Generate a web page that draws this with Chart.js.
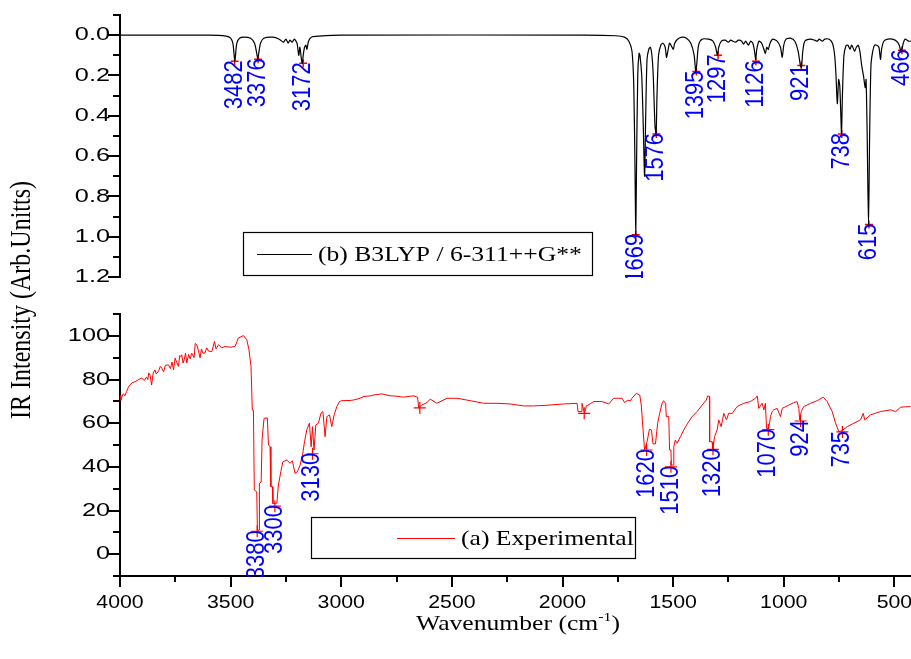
<!DOCTYPE html>
<html><head><meta charset="utf-8">
<script src="https://cdn.jsdelivr.net/npm/chart.js@4.4.1/dist/chart.umd.min.js"></script>
<style>
html,body{margin:0;padding:0;background:#fff;}
#wrap{position:relative;width:911px;height:659px;background:#fff;}
canvas{position:absolute;left:0;top:0;}
</style></head><body>
<div id="wrap"><canvas id="cTop" width="911" height="659"></canvas><canvas id="cBot" width="911" height="659"></canvas></div>
<script>
// ---------- DATA ----------
const xTickValues = [4000, 3500, 3000, 2500, 2000, 1500, 1000, 500];
const xTickLabels = ["4000", "3500", "3000", "2500", "2000", "1500", "1000", "500"];
const xMinorTicks = [3750, 3250, 2750, 2250, 1750, 1250, 750];

const topYTickValues = [0, 0.2, 0.4, 0.6, 0.8, 1.0, 1.2];
const topYTickLabels = ["0.0", "0.2", "0.4", "0.6", "0.8", "1.0", "1.2"];
const topYMinorTicks = [-0.1, 0.1, 0.3, 0.5, 0.7, 0.9, 1.1];

const botYTickValues = [0, 20, 40, 60, 80, 100];
const botYTickLabels = ["0", "20", "40", "60", "80", "100"];
const botYMinorTicks = [-10, 10, 30, 50, 70, 90, 110];

// (b) B3LYP / 6-311++G** calculated spectrum
const calcWavenumber = [4000,3600,3520,3500,3490,3484,3481,3478,3472,3460,3440,3410,3392,3382,3377,3373,3365,3350,3310,3280,3262,3250,3240,3232,3222,3212,3200,3192,3187,3180,3176,3172,3166,3160,3155,3148,3135,3100,3000,1900,1760,1720,1700,1686,1678,1672,1669,1666,1660,1654,1650,1642,1635,1629,1624,1618,1610,1603,1596,1590,1582,1577,1573,1566,1556,1546,1536,1530,1524,1516,1505,1499,1493,1480,1460,1440,1420,1405,1398,1393,1385,1370,1340,1320,1308,1300,1294,1282,1265,1250,1240,1230,1218,1205,1190,1182,1172,1160,1150,1140,1132,1127,1122,1112,1100,1090,1083,1077,1070,1062,1050,1030,1015,1007,1000,990,970,950,935,925,920,914,905,880,860,848,840,825,815,795,780,770,764,758,752,747,742,739,735,728,718,710,700,694,688,680,672,664,656,648,640,632,628,623,617,612,606,598,590,580,570,563,558,548,530,510,490,478,471,466,460,452,435,425];
const calcIntensity  = [0,0,0.005,0.015,0.04,0.10,0.13,0.10,0.04,0.015,0.01,0.015,0.04,0.09,0.12,0.09,0.04,0.015,0.01,0.02,0.035,0.02,0.04,0.025,0.035,0.02,0.04,0.10,0.06,0.12,0.14,0.10,0.06,0.05,0.07,0.03,0.01,0.005,0,0,0.003,0.01,0.03,0.08,0.25,0.7,1.0,0.7,0.2,0.09,0.10,0.2,0.45,0.70,0.4,0.12,0.07,0.06,0.1,0.2,0.45,0.49,0.3,0.1,0.05,0.04,0.06,0.11,0.08,0.04,0.06,0.07,0.04,0.02,0.01,0.015,0.04,0.10,0.18,0.14,0.05,0.02,0.02,0.03,0.06,0.10,0.06,0.03,0.025,0.035,0.025,0.03,0.035,0.025,0.03,0.045,0.03,0.05,0.03,0.04,0.08,0.12,0.07,0.03,0.04,0.07,0.09,0.06,0.07,0.04,0.02,0.03,0.06,0.11,0.05,0.02,0.015,0.03,0.08,0.15,0.16,0.08,0.03,0.02,0.025,0.03,0.02,0.03,0.02,0.02,0.04,0.1,0.2,0.34,0.22,0.25,0.4,0.49,0.3,0.1,0.05,0.05,0.07,0.05,0.06,0.08,0.06,0.05,0.08,0.15,0.2,0.26,0.22,0.5,0.945,0.5,0.15,0.08,0.05,0.05,0.06,0.12,0.07,0.03,0.02,0.02,0.03,0.05,0.08,0.07,0.04,0.02,0.03,0.03];
const calcPeakWn    = [3482, 3376, 3172, 1669, 1576, 1395, 1297, 1126, 921, 738, 615, 466];
const calcPeakValue = [0.13, 0.12, 0.14, 0.99, 0.49, 0.18, 0.10, 0.13, 0.15, 0.49, 0.94, 0.075];
const calcPeakLabel = ["3482", "3376", "3172", "1669", "1576", "1395", "1297", "1126", "921", "738", "615", "466"];

// (a) Experimental spectrum
const expWavenumber = [4000,3996,3992,3985,3978,3970,3962,3955,3945,3932,3915,3902,3890,3880,3874,3870,3864,3857,3850,3842,3836,3825,3818,3811,3803,3795,3781,3772,3765,3758,3751,3744,3736,3730,3725,3721,3715,3710,3704,3698,3690,3683,3676,3665,3660,3653,3645,3638,3632,3625,3616,3608,3600,3585,3573,3566,3555,3540,3525,3500,3480,3465,3442,3427,3417,3408,3402,3397,3393,3382,3379,3371,3370,3362,3358,3349,3334,3329,3322,3318,3311,3309,3291,3284,3273,3264,3246,3231,3221,3209,3198,3186,3174,3166,3156,3144,3136,3130,3123,3115,3103,3092,3083,3073,3065,3053,3043,3032,3020,3008,2997,2960,2945,2915,2900,2869,2854,2816,2779,2764,2719,2690,2673,2655,2650,2636,2613,2598,2568,2522,2477,2417,2357,2296,2236,2176,2131,2070,1995,1934,1930,1916,1912,1905,1900,1892,1889,1859,1821,1791,1769,1731,1720,1705,1693,1686,1666,1651,1644,1636,1629,1618,1607,1598,1591,1580,1570,1561,1550,1543,1534,1531,1520,1516,1510,1508,1500,1497,1490,1482,1467,1452,1434,1414,1392,1369,1350,1344,1336,1335,1324,1320,1313,1301,1294,1283,1271,1259,1249,1233,1211,1181,1151,1128,1120,1113,1098,1090,1083,1078,1068,1060,1053,1045,1030,1015,1007,985,955,940,932,928,921,910,879,849,822,804,781,766,751,736,713,683,653,641,634,608,563,517,495,472,450,427];
const expIntensity  = [72.9,70.5,72,73.5,72.5,74.5,76.5,77.5,78.5,79,80,80.7,79.5,81.2,80,83,82,77.5,83,84.4,82.5,84,86,85.2,83.5,86.5,86.7,85,88,84.5,89.8,88,86,91,90.5,91.3,87.5,89,92,87.6,91.5,89.5,92,90,96.5,95.9,93,89.9,94,92,92.2,94.5,93,92.8,97.4,94,95.9,94.5,95.1,94.8,95.1,99,100.1,98.2,93.6,86,66,66,29.4,28.6,11,11,32.5,33,52.3,62.2,62.4,50,49.2,30.9,30.9,23.2,23.4,31.7,37.8,42.3,43.1,41.6,42.8,37,37.8,40.8,46.2,51.5,56.9,60,49.2,58.4,47.7,59.2,60,64.5,65.3,53.8,63,63.8,58.4,63.8,67.6,69.9,70.3,70.4,70.6,71.4,72.2,72.5,72.9,73.4,72.5,72.5,71.9,72.3,72.5,71.9,67,68.3,69.4,71,69.1,71.4,71.4,70.3,69.1,69.1,68.8,67.9,67.9,68.2,68.8,69.1,65.3,65.3,69.1,66,64.8,68,67.9,69.9,69.9,68.8,71.4,71.4,69.5,70.5,70.2,71.4,73.7,72.9,68.3,56.9,47.7,51.5,57.2,56.9,50.5,50.5,60,64.5,69.1,70.3,69.1,63,63,47.7,47.7,40.8,40.8,49.2,52.3,50.8,53.8,56.9,60,63,65.3,68.3,70.6,72.5,72.2,51.5,51.5,47.7,53.8,56.9,61.5,58.4,64.5,61.5,64.5,64.5,67.6,69.1,69.9,71.4,72.5,66.8,69.1,66.1,69.1,57.6,57.6,63,65.3,66.1,66.8,63,66.8,67.9,69.4,69.9,66.8,61.5,65.3,67.6,69.1,70.3,71.9,69.9,65.3,60,56.1,56.6,58.4,60,61.5,64.5,61.5,63.8,65.3,66.1,65.3,67.3,67.5,67.6];
const expPeakWn    = [3380, 3300, 3130, 2645, 1902, 1620, 1510, 1320, 1070, 924, 735];
const expPeakValue = [10.5, 22, 46, 67, 64.5, 47.7, 40, 48, 57, 61, 56];
const expPeakLabel = ["3380", "3300", "3130", "", "", "1620", "1510", "1320", "1070", "924", "735"];

// ---------- HELPERS ----------
function pts(xs, ys) { return xs.map((x, i) => ({x: x, y: ys[i]})); }

function stretchText(ctx, text, x, y, font, align, baseline, sx, color) {
  ctx.save();
  ctx.translate(x, y);
  ctx.scale(sx, 1);
  ctx.font = font;
  ctx.textAlign = align;
  ctx.textBaseline = baseline;
  ctx.fillStyle = color || '#000';
  ctx.fillText(text, 0, 0);
  ctx.restore();
}
function rotText(ctx, text, x, y, font, align, sx, color) {
  ctx.save();
  ctx.translate(x, y);
  ctx.scale(sx, 1);
  ctx.rotate(-Math.PI / 2);
  ctx.font = font;
  ctx.textAlign = align;
  ctx.textBaseline = 'middle';
  ctx.fillStyle = color;
  ctx.fillText(text, 0, 0);
  ctx.restore();
}

const TICK_FONT = '19px "Liberation Sans", Arial, sans-serif';
const SERIF = '"Liberation Serif", "Times New Roman", serif';
const PEAK_FONT = '22px "Liberation Sans", Arial, sans-serif';

function yAxisDecor(chart, majors, labels, minors) {
  const ctx = chart.ctx, ys = chart.scales.y, left = chart.chartArea.left;
  ctx.save();
  ctx.strokeStyle = '#000'; ctx.lineWidth = 2;
  majors.forEach(v => { const p = Math.round(ys.getPixelForValue(v)); ctx.beginPath(); ctx.moveTo(left - 12, p); ctx.lineTo(left, p); ctx.stroke(); });
  minors.forEach(v => { const p = Math.round(ys.getPixelForValue(v)); ctx.beginPath(); ctx.moveTo(left - 7, p); ctx.lineTo(left, p); ctx.stroke(); });
  ctx.restore();
  majors.forEach((v, i) => stretchText(ctx, labels[i], left - 10, ys.getPixelForValue(v), TICK_FONT, 'right', 'middle', 1.33, '#000'));
}

function peakLabels(chart, wns, vals, labels) {
  const ctx = chart.ctx, xs = chart.scales.x, ys = chart.scales.y, a = chart.chartArea;
  ctx.save();
  ctx.beginPath(); ctx.rect(a.left, a.top, a.right - a.left, a.bottom - a.top + 1); ctx.clip();
  wns.forEach((w, i) => {
    if (!labels[i]) return;
    rotText(ctx, labels[i], xs.getPixelForValue(w), ys.getPixelForValue(vals[i]) - 1, PEAK_FONT, 'right', 1.15, '#0000ff');
  });
  ctx.restore();
}

function legendBox(ctx, x0, y0, x1, y1, lx0, lx1, color, text) {
  ctx.save();
  ctx.fillStyle = '#fff'; ctx.fillRect(x0, y0, x1 - x0, y1 - y0);
  ctx.strokeStyle = '#000'; ctx.lineWidth = 1.2; ctx.strokeRect(x0 + 0.5, y0 + 0.5, x1 - x0, y1 - y0);
  const ym = Math.round((y0 + y1) / 2) + 0.5;
  ctx.strokeStyle = color; ctx.lineWidth = 1.2;
  ctx.beginPath(); ctx.moveTo(lx0, ym); ctx.lineTo(lx1, ym); ctx.stroke();
  ctx.restore();
  stretchText(ctx, text, lx1 + 6, ym + 1, '21px ' + SERIF, 'left', 'middle', 1.22, '#000');
}

const topDecor = {
  id: 'topDecor',
  afterDatasetsDraw(chart) {
    yAxisDecor(chart, topYTickValues, topYTickLabels, topYMinorTicks);
    peakLabels(chart, calcPeakWn, calcPeakValue, calcPeakLabel);
    legendBox(chart.ctx, 243, 232, 592, 275, 257, 312, '#000', '(b) B3LYP / 6-311++G**');
  }
};

const botDecor = {
  id: 'botDecor',
  afterDatasetsDraw(chart) {
    const ctx = chart.ctx, xs = chart.scales.x, a = chart.chartArea;
    yAxisDecor(chart, botYTickValues, botYTickLabels, botYMinorTicks);
    ctx.save();
    ctx.strokeStyle = '#000'; ctx.lineWidth = 2;
    xTickValues.forEach(v => { const p = Math.round(xs.getPixelForValue(v)); ctx.beginPath(); ctx.moveTo(p, a.bottom); ctx.lineTo(p, a.bottom + 11); ctx.stroke(); });
    xMinorTicks.forEach(v => { const p = Math.round(xs.getPixelForValue(v)); ctx.beginPath(); ctx.moveTo(p, a.bottom); ctx.lineTo(p, a.bottom + 6); ctx.stroke(); });
    ctx.restore();
    xTickValues.forEach((v, i) => stretchText(ctx, xTickLabels[i], xs.getPixelForValue(v), 603, TICK_FONT, 'center', 'middle', 1.12, '#000'));
    peakLabels(chart, expPeakWn, expPeakValue, expPeakLabel);
    legendBox(ctx, 311, 517, 635, 558, 397, 455, '#ff0000', '(a) Experimental');

    // axis titles
    ctx.save();
    const f1 = '21px ' + SERIF, f2 = '13px ' + SERIF, sx = 1.22;
    ctx.font = f1; const w1 = ctx.measureText('Wavenumber (cm').width, w3 = ctx.measureText(')').width;
    ctx.font = f2; const w2 = ctx.measureText('-1').width;
    ctx.restore();
    const total = (w1 + w2 + w3) * sx;
    let x = 518 - total / 2;
    stretchText(ctx, 'Wavenumber (cm', x, 630, f1, 'left', 'alphabetic', sx, '#000'); x += w1 * sx;
    stretchText(ctx, '-1', x, 621, f2, 'left', 'alphabetic', sx, '#000'); x += w2 * sx;
    stretchText(ctx, ')', x, 630, f1, 'left', 'alphabetic', sx, '#000');
    rotText(ctx, 'IR Intensity (Arb.Unitts)', 22, 300, '24px ' + SERIF, 'center', 1.2, '#000');
  }
};

Chart.defaults.font.family = '"Liberation Sans", Arial, sans-serif';

const commonX = {
  type: 'linear', reverse: true, min: 425, max: 4000,
  grid: {display: false, drawTicks: false}, ticks: {display: false},
  border: {display: true, color: '#000', width: 2},
  afterFit(s) { s.paddingLeft = 0; s.paddingRight = 0; }
};

new Chart(document.getElementById('cTop'), {
  type: 'line',
  data: { datasets: [
    { data: pts(calcWavenumber, calcIntensity), borderColor: '#000', borderWidth: 1.2, pointRadius: 0, tension: 0.25, fill: false },
    { data: pts(calcPeakWn, calcPeakValue), showLine: false, pointStyle: 'cross', pointRadius: 4, borderColor: '#ff0000', borderWidth: 1.5 }
  ]},
  options: {
    responsive: false, animation: false, devicePixelRatio: 1,
    layout: { autoPadding: false, padding: {top: 15, bottom: 382, left: 0, right: 0} },
    plugins: { legend: {display: false}, tooltip: {enabled: false} },
    scales: {
      x: Object.assign({}, commonX, {display: false}),
      y: { type: 'linear', reverse: true, min: -0.1, max: 1.2,
        grid: {display: false, drawTicks: false}, ticks: {display: false},
        border: {display: true, color: '#000', width: 2},
        afterFit(s) { s.width = 120; s.paddingTop = 0; s.paddingBottom = 0; } }
    }
  },
  plugins: [topDecor]
});

new Chart(document.getElementById('cBot'), {
  type: 'line',
  data: { datasets: [
    { data: pts(expWavenumber, expIntensity), borderColor: '#ff0000', borderWidth: 1, pointRadius: 0, tension: 0, fill: false },
    { data: pts(expPeakWn, expPeakValue), showLine: false, pointStyle: 'cross', pointRadius: 6, borderColor: '#ff0000', borderWidth: 1.2 }
  ]},
  options: {
    responsive: false, animation: false, devicePixelRatio: 1,
    layout: { autoPadding: false, padding: {top: 314, bottom: 0, left: 0, right: 0} },
    plugins: { legend: {display: false}, tooltip: {enabled: false} },
    scales: {
      x: Object.assign({}, commonX, { afterFit(s) { s.height = 83; s.paddingLeft = 0; s.paddingRight = 0; } }),
      y: { type: 'linear', min: -10, max: 110,
        grid: {display: false, drawTicks: false}, ticks: {display: false},
        border: {display: true, color: '#000', width: 2},
        afterFit(s) { s.width = 120; s.paddingTop = 0; s.paddingBottom = 0; } }
    }
  },
  plugins: [botDecor]
});
</script></body></html>
